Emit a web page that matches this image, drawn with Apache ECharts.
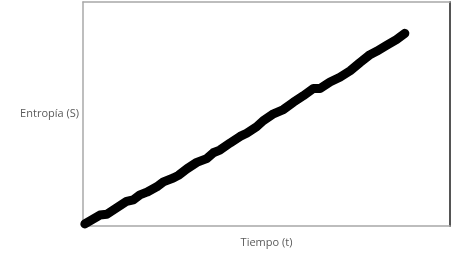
<!DOCTYPE html>
<html><head><meta charset="utf-8">
<script src="https://cdn.jsdelivr.net/npm/echarts@6/dist/echarts.min.js"></script>
<style>html,body{margin:0;padding:0;background:#fff}#c{width:460px;height:253px}</style>
</head><body><div id="c"></div>
<script>
var tiempo = [0.5,4.6,6.5,9.2,11.9,13.7,15.5,17.4,20.1,21.9,24.6,26.0,28.3,31.0,33.7,35.5,37.3,40.1,42.8,44.6,47.3,49.1,51.9,54.6,57.3,60.0,62.8,64.6,67.3,70.0,72.8,75.5,78.2,80.0,82.7,85.4,87.7];
var entropia = [0.9,4.9,5.2,8.1,11.0,11.7,13.9,15.1,17.5,19.7,21.4,22.6,25.5,28.4,30.1,32.7,33.9,37.1,40.0,41.4,44.3,47.0,50.1,52.0,55.2,58.1,61.4,61.4,64.3,66.4,69.3,73.0,76.5,78.0,80.6,83.2,86.0];
var xName = 'Tiempo (t)';
var yName = 'Entropía (S)';
var data = tiempo.map(function(t,i){return [t, entropia[i]];});
var chart = echarts.init(document.getElementById('c'));
var nameStyle = {color:'#5a5a5a', fontFamily:'Open Sans', fontSize:11};
chart.setOption({
  animation:false,
  grid:{left:83, right:10, top:2, bottom:21, containLabel:false},
  xAxis:[
    {type:'value', min:0, max:100, name:xName, nameLocation:'middle', nameGap:11, nameTextStyle:nameStyle,
     axisLine:{show:true, onZero:false, lineStyle:{color:'#a8a8a8', width:1.5}}, axisTick:{show:false}, axisLabel:{show:false}, splitLine:{show:false}},
    {type:'value', position:'top', min:0, max:100,
     axisLine:{show:true, onZero:false, lineStyle:{color:'#a8a8a8', width:1.5}}, axisTick:{show:false}, axisLabel:{show:false}, splitLine:{show:false}}
  ],
  yAxis:[
    {type:'value', min:0, max:100, name:yName, nameLocation:'middle', nameRotate:0, nameGap:4,
     nameTextStyle:Object.assign({padding:[7,0,0,0]}, nameStyle),
     axisLine:{show:true, onZero:false, lineStyle:{color:'#a8a8a8', width:1.5}}, axisTick:{show:false}, axisLabel:{show:false}, splitLine:{show:false}},
    {type:'value', position:'right', min:0, max:100,
     axisLine:{show:true, onZero:false, lineStyle:{color:'#555', width:2}}, axisTick:{show:false}, axisLabel:{show:false}, splitLine:{show:false}}
  ],
  series:[{type:'line', data:data, showSymbol:false, symbol:'none', smooth:false,
    lineStyle:{color:'#000', width:9, cap:'round', join:'round'}}]
});
</script></body></html>
